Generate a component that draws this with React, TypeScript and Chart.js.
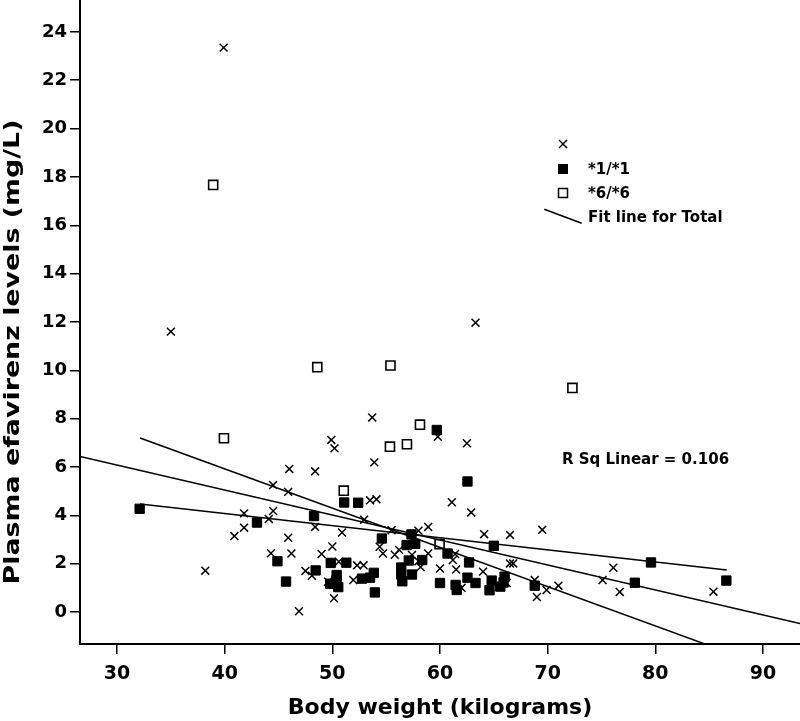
import React, { useEffect, useRef } from 'react';
import { Chart, registerables } from 'chart.js';

Chart.register(...registerables);

// ---- Axis settings ----
const X_MIN = 26.56;
const X_MAX = 93.44;
const X_STEP = 10;
const Y_MIN = -1.324;
const Y_MAX = 25.32;
const Y_STEP = 2;
const X_TITLE = 'Body weight (kilograms)';
const Y_TITLE = 'Plasma efavirenz levels (mg/L)';

// ---- Unlabelled group (crosses) ----
const crossWeight = [
  35.0, 39.9, 63.3, 38.2, 40.9, 41.8, 41.8, 44.1, 44.5, 44.5, 44.3, 45.9, 46.0, 45.9, 46.2,
  46.9, 47.5, 48.1, 48.4, 48.4, 49.0, 49.6, 49.9, 50.2, 50.0, 50.6, 50.9, 50.15, 51.95, 52.3,
  52.9, 52.95, 53.5, 54.1, 53.7, 53.9, 54.4, 54.7, 55.5, 55.8, 56.2, 57.4, 58.0, 58.0, 58.2,
  58.9, 58.9, 59.8, 60.0, 61.1, 61.4, 61.2, 61.5, 62.0, 62.5, 62.9, 64.1, 64.0, 66.5, 66.5,
  66.8, 66.2, 69.5, 68.8, 69.0, 69.9, 71.0, 75.1, 76.1, 76.7, 85.4,
];
const crossLevel = [
  11.6, 23.35, 11.97, 1.71, 3.14, 3.49, 4.08, 3.85, 4.18, 5.25, 2.43, 4.97, 5.92, 3.07, 2.42,
  0.03, 1.70, 1.50, 5.82, 3.52, 2.40, 1.25, 7.12, 6.77, 2.71, 2.08, 3.29, 0.57, 1.32, 1.93,
  1.93, 3.82, 4.62, 4.66, 8.05, 6.19, 2.70, 2.42, 3.38, 2.37, 2.57, 2.36, 3.36, 2.10, 1.86,
  3.52, 2.42, 7.25, 1.80, 4.54, 2.40, 2.15, 1.76, 1.00, 6.98, 4.12, 3.22, 1.67, 3.19, 2.01,
  2.01, 1.20, 3.40, 1.32, 0.62, 0.91, 1.09, 1.32, 1.83, 0.83, 0.84,
];

// ---- *1/*1 (filled squares) ----
const wt11 = [
  32.1, 43.0, 44.9, 45.7, 48.3, 48.45, 49.85, 49.8, 50.4, 50.4, 50.55, 51.1, 51.3, 52.4, 52.75,
  53.5, 53.85, 53.95, 54.6, 56.4, 56.4, 56.5, 56.9, 57.1, 57.35, 57.4, 57.7, 58.35, 59.7, 60.0,
  60.7, 61.45, 61.55, 62.55, 62.7, 62.55, 63.3, 64.8, 64.6, 65.0, 65.6, 66.0, 65.9, 68.8, 78.1,
  79.6, 86.6,
];
const lvl11 = [
  4.27, 3.70, 2.10, 1.26, 3.97, 1.72, 2.03, 1.17, 1.53, 1.32, 1.03, 4.53, 2.04, 4.52, 1.38,
  1.42, 1.62, 0.81, 3.04, 1.84, 1.55, 1.27, 2.77, 2.13, 3.21, 1.55, 2.82, 2.15, 7.53, 1.20,
  2.42, 1.12, 0.91, 5.40, 2.05, 1.42, 1.20, 1.30, 0.90, 2.74, 1.05, 1.46, 1.22, 1.09, 1.21,
  2.05, 1.30,
];

// ---- *6/*6 (open squares) ----
const wt66 = [38.93, 39.93, 48.6, 55.4, 72.3, 58.14, 55.35, 56.93, 51.06, 59.96];
const lvl66 = [17.67, 7.19, 10.13, 10.2, 9.27, 7.75, 6.84, 6.94, 5.02, 2.81];

// ---- Fit lines (end points) ----
const fitTotalX = [26.56, 93.44];
const fitTotalY = [6.43, -0.48];
const fit11X = [32.14, 86.63];
const fit11Y = [4.47, 1.74];
const fitCrossX = [32.14, 86.0];
const fitCrossY = [7.2, -1.55];

const R_SQ_TEXT = 'R Sq Linear = 0.106';
const LEGEND_LABELS = ['', '*1/*1', '*6/*6', 'Fit line for Total'];

const FONT = '"DejaVu Sans", Verdana, sans-serif';

const pts = (xs: number[], ys: number[]) => xs.map((x, i) => ({ x, y: ys[i] }));

const annotPlugin = {
  id: 'annot',
  afterDraw(chart: any) {
    const ctx = chart.ctx as CanvasRenderingContext2D;
    const area = chart.chartArea;
    ctx.save();
    // Y axis title
    ctx.fillStyle = '#000';
    ctx.translate(13, 352);
    ctx.rotate(-Math.PI / 2);
    ctx.scale(1.22, 1);
    ctx.font = `bold 22px ${FONT}`;
    ctx.textAlign = 'center';
    ctx.textBaseline = 'middle';
    ctx.fillText(Y_TITLE, 0, 0);
    ctx.restore();

    // Legend
    ctx.save();
    const lx = area.left + 483;
    ctx.strokeStyle = '#000';
    ctx.fillStyle = '#000';
    ctx.lineWidth = 1.5;
    // cross
    ctx.beginPath();
    ctx.moveTo(lx - 4, 140);
    ctx.lineTo(lx + 4, 148);
    ctx.moveTo(lx + 4, 140);
    ctx.lineTo(lx - 4, 148);
    ctx.stroke();
    // filled square
    ctx.fillRect(lx - 5, 164, 10, 10);
    // open square
    ctx.strokeRect(lx - 4.5, 188.5, 9, 9);
    // fit line sample
    ctx.beginPath();
    ctx.moveTo(area.left + 464.3, 209.3);
    ctx.lineTo(area.left + 501.7, 223.3);
    ctx.stroke();

    ctx.font = `bold 15px ${FONT}`;
    ctx.textAlign = 'left';
    ctx.textBaseline = 'middle';
    const tx = area.left + 508;
    ctx.fillText(LEGEND_LABELS[1], tx, 170);
    ctx.fillText(LEGEND_LABELS[2], tx, 194);
    ctx.fillText(LEGEND_LABELS[3], tx, 218);

    // R squared
    ctx.fillText(R_SQ_TEXT, area.left + 482, 460);
    ctx.restore();
  },
};

export default function App() {
  const ref = useRef<HTMLCanvasElement>(null);

  useEffect(() => {
    if (!ref.current) return;
    const lineDs = (xs: number[], ys: number[]) => ({
      type: 'line' as const,
      data: pts(xs, ys),
      showLine: true,
      borderColor: '#000',
      borderWidth: 1.5,
      pointRadius: 0,
      fill: false,
      tension: 0,
    });
    const chart = new Chart(ref.current, {
      type: 'scatter',
      data: {
        datasets: [
          lineDs(fitTotalX, fitTotalY) as any,
          lineDs(fit11X, fit11Y) as any,
          lineDs(fitCrossX, fitCrossY) as any,
          {
            data: pts(wt11, lvl11),
            pointStyle: 'rect',
            pointRadius: 6.6,
            backgroundColor: '#000',
            borderColor: '#000',
            borderWidth: 1,
          },
          {
            data: pts(wt66, lvl66),
            pointStyle: 'rect',
            pointRadius: 6.4,
            backgroundColor: 'rgba(0,0,0,0)',
            borderColor: '#000',
            borderWidth: 1.6,
          },
          {
            data: pts(crossWeight, crossLevel),
            pointStyle: 'crossRot',
            pointRadius: 5.6,
            borderColor: '#000',
            borderWidth: 1.5,
          },
        ],
      },
      options: {
        responsive: false,
        animation: false,
        devicePixelRatio: 1,
        layout: { padding: 0, autoPadding: false },
        plugins: {
          legend: { display: false },
          tooltip: { enabled: false },
        },
        scales: {
          x: {
            type: 'linear',
            min: X_MIN,
            max: X_MAX,
            afterFit: (s: any) => {
              s.height = 77;
              s.paddingLeft = 0;
              s.paddingRight = 0;
            },
            ticks: {
              stepSize: X_STEP,
              includeBounds: false,
              color: '#000',
              padding: 9,
              font: { family: FONT, weight: 'bold', size: 19 },
            },
            grid: {
              drawOnChartArea: false,
              drawTicks: true,
              tickLength: 10,
              color: '#000',
              lineWidth: 1.5,
            },
            border: { display: true, color: '#000', width: 2 },
            title: {
              display: true,
              text: X_TITLE,
              color: '#000',
              padding: 0,
              font: { family: FONT, weight: 'bold', size: 22 },
            },
          },
          y: {
            type: 'linear',
            min: Y_MIN,
            max: Y_MAX,
            afterFit: (s: any) => {
              s.width = 80;
              s.paddingTop = 0;
              s.paddingBottom = 0;
            },
            ticks: {
              stepSize: Y_STEP,
              includeBounds: false,
              color: '#000',
              padding: 3,
              font: { family: FONT, weight: 'bold', size: 18 },
            },
            grid: {
              drawOnChartArea: false,
              drawTicks: true,
              tickLength: 10,
              color: '#000',
              lineWidth: 1.5,
            },
            border: { display: true, color: '#000', width: 2 },
            title: { display: false },
          },
        },
      },
      plugins: [annotPlugin],
    });
    return () => chart.destroy();
  }, []);

  return (
    <div style={{ position: 'absolute', left: 0, top: 0, width: 800, height: 721, background: '#fff' }}>
      <canvas ref={ref} width={800} height={721} style={{ display: 'block' }} />
    </div>
  );
}
